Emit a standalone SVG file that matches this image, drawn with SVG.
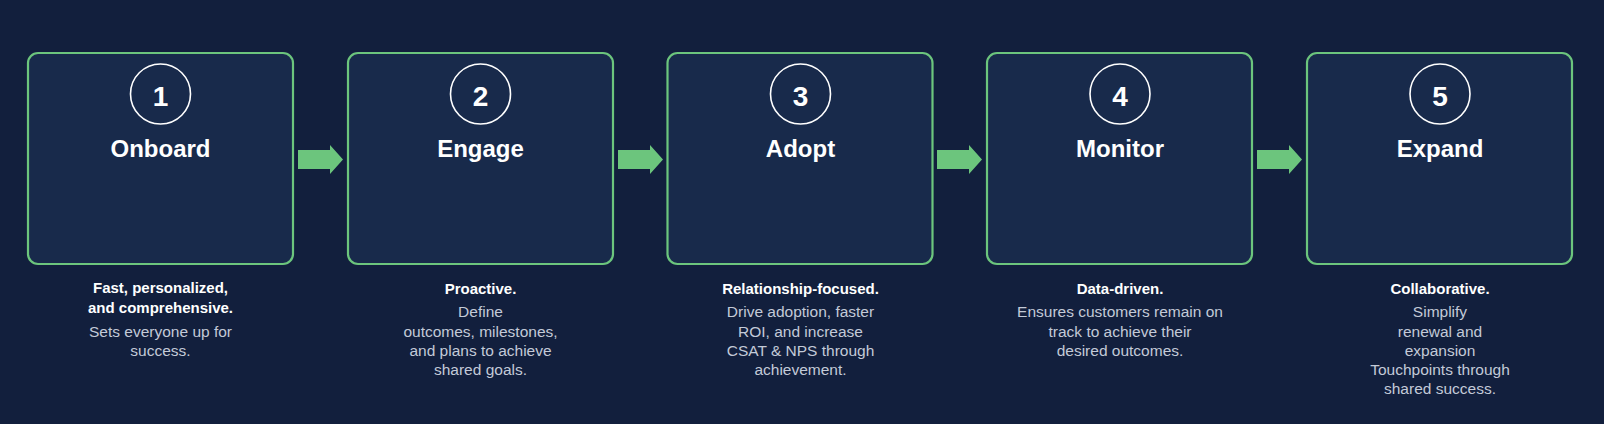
<svg xmlns="http://www.w3.org/2000/svg" width="1604" height="424" viewBox="0 0 1604 424">
<style>
.box{fill:#182a4b;stroke:#6cc57d;stroke-width:2.2}
.circ{fill:none;stroke:#ffffff;stroke-width:1.6}
.num{font-family:"Liberation Sans",Arial,sans-serif;font-weight:bold;font-size:28px;fill:#ffffff;text-anchor:middle}
.title{font-family:"Liberation Sans",Arial,sans-serif;font-weight:bold;font-size:24px;fill:#ffffff;text-anchor:middle}
.lead{font-family:"Liberation Sans",Arial,sans-serif;font-weight:bold;font-size:15px;fill:#ffffff;text-anchor:middle}
.desc{font-family:"Liberation Sans",Arial,sans-serif;font-size:15.5px;fill:#c3cad8;text-anchor:middle}
.arrow{fill:#6cc57d}
</style>
<rect x="0" y="0" width="1604" height="424" fill="#121f3d"/>
<g id="connectors">
<path class="arrow" d="M298,150 H330 V145 L343,159.5 L330,174 V169 H298 Z"/>
<path class="arrow" d="M618,150 H650 V145 L663,159.5 L650,174 V169 H618 Z"/>
<path class="arrow" d="M937,150 H969 V145 L982,159.5 L969,174 V169 H937 Z"/>
<path class="arrow" d="M1257,150 H1289 V145 L1302,159.5 L1289,174 V169 H1257 Z"/>
</g>
<g id="node1">
<rect class="box" x="28" y="53" width="265" height="211" rx="10"/>
<circle class="circ" cx="160.5" cy="94" r="30"/>
<text class="num" x="160.5" y="106">1</text>
<text class="title" x="160.5" y="157">Onboard</text>
<text class="lead" x="160.5" y="293">Fast, personalized,</text>
<text class="lead" x="160.5" y="313">and comprehensive.</text>
<text class="desc" x="160.5" y="337">Sets everyone up for</text>
<text class="desc" x="160.5" y="356">success.</text>
</g>
<g id="node2">
<rect class="box" x="348" y="53" width="265" height="211" rx="10"/>
<circle class="circ" cx="480.5" cy="94" r="30"/>
<text class="num" x="480.5" y="106">2</text>
<text class="title" x="480.5" y="157">Engage</text>
<text class="lead" x="480.5" y="294">Proactive.</text>
<text class="desc" x="480.5" y="317">Define</text>
<text class="desc" x="480.5" y="337">outcomes, milestones,</text>
<text class="desc" x="480.5" y="356">and plans to achieve</text>
<text class="desc" x="480.5" y="375">shared goals.</text>
</g>
<g id="node3">
<rect class="box" x="667.5" y="53" width="265" height="211" rx="10"/>
<circle class="circ" cx="800.5" cy="94" r="30"/>
<text class="num" x="800.5" y="106">3</text>
<text class="title" x="800.5" y="157">Adopt</text>
<text class="lead" x="800.5" y="294">Relationship-focused.</text>
<text class="desc" x="800.5" y="317">Drive adoption, faster</text>
<text class="desc" x="800.5" y="337">ROI, and increase</text>
<text class="desc" x="800.5" y="356">CSAT &amp; NPS through</text>
<text class="desc" x="800.5" y="375">achievement.</text>
</g>
<g id="node4">
<rect class="box" x="987" y="53" width="265" height="211" rx="10"/>
<circle class="circ" cx="1120" cy="94" r="30"/>
<text class="num" x="1120" y="106">4</text>
<text class="title" x="1120" y="157">Monitor</text>
<text class="lead" x="1120" y="294">Data-driven.</text>
<text class="desc" x="1120" y="317">Ensures customers remain on</text>
<text class="desc" x="1120" y="337">track to achieve their</text>
<text class="desc" x="1120" y="356">desired outcomes.</text>
</g>
<g id="node5">
<rect class="box" x="1307" y="53" width="265" height="211" rx="10"/>
<circle class="circ" cx="1440" cy="94" r="30"/>
<text class="num" x="1440" y="106">5</text>
<text class="title" x="1440" y="157">Expand</text>
<text class="lead" x="1440" y="294">Collaborative.</text>
<text class="desc" x="1440" y="317">Simplify</text>
<text class="desc" x="1440" y="337">renewal and</text>
<text class="desc" x="1440" y="356">expansion</text>
<text class="desc" x="1440" y="375">Touchpoints through</text>
<text class="desc" x="1440" y="394">shared success.</text>
</g>
</svg>
